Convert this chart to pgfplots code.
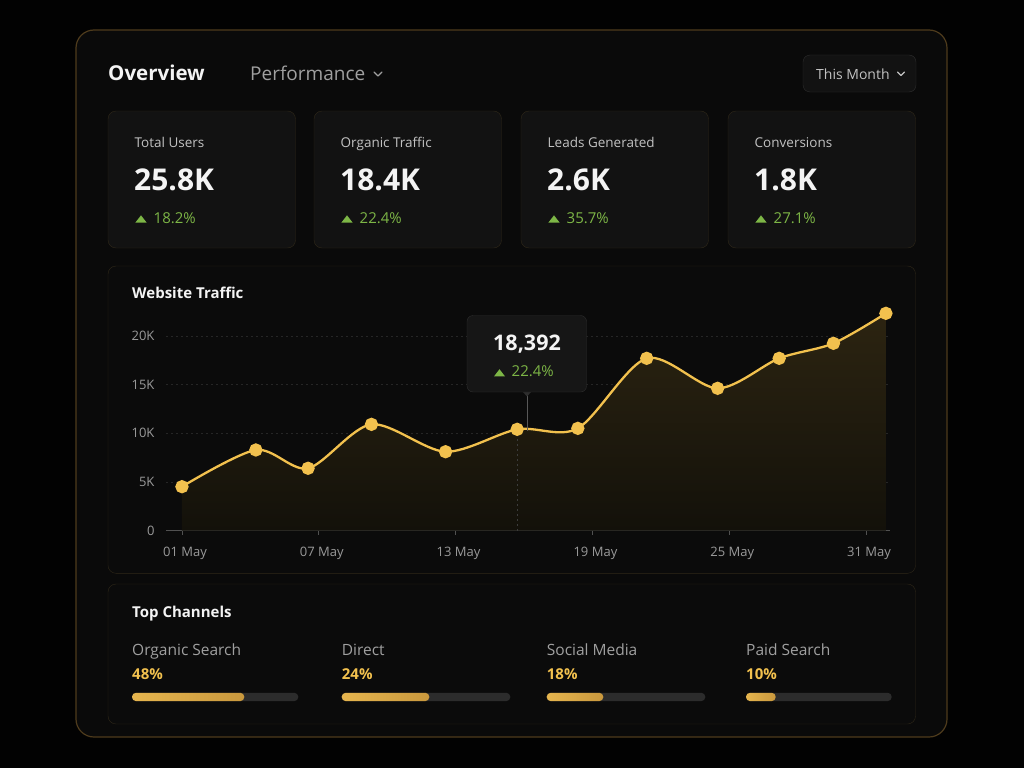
\documentclass[border=0pt]{standalone}
\usepackage{pgfplots}
\pgfplotsset{compat=1.18}
\usepackage{pgfplotstable}
\usepackage{fontspec}
\setmainfont{Open Sans}

\definecolor{pagebg}{HTML}{020202}
\definecolor{panelbg}{HTML}{0A0A0A}
\definecolor{panelborder}{HTML}{4E3B1C}
\definecolor{cardbg}{HTML}{121212}
\definecolor{cardborder}{HTML}{2F2819}
\definecolor{chartbg}{HTML}{0B0B0B}
\definecolor{txtwhite}{HTML}{F4F4F4}
\definecolor{txtgrey}{HTML}{C2C2C2}
\definecolor{txtdim}{HTML}{A0A0A0}
\definecolor{axisgrey}{HTML}{9A9A9A}
\definecolor{upgreen}{HTML}{7DB646}
\definecolor{gold}{HTML}{F2C14E}
\definecolor{goldA}{HTML}{E6B54E}
\definecolor{goldB}{HTML}{C9983D}
\definecolor{track}{HTML}{2C2C2C}
\definecolor{gridc}{HTML}{262626}
\definecolor{areatop}{HTML}{2C2411}
\definecolor{areabot}{HTML}{13110A}
\definecolor{tipbg}{HTML}{161616}
\definecolor{tipborder}{HTML}{2E2E2E}

\newcommand{\fs}[1]{\fontsize{#1}{#1}\selectfont}

% daily website visits (day of May, visits)
\pgfplotstableread{
day    visits
1.00   4520
4.24   8290
6.53   6410
9.31   10920
12.56  8110
15.70  10410
18.36  10510
21.38  17700
24.49  14620
27.19  17700
29.57  19240
31.87  22320
}\traffic

% one channel share bar: left x, track length, scale maximum, share in percent
\newcommand{\channelbar}[4]{%
  \fill[track, rounded corners=4pt] (#1,692.8) rectangle ++(#2,8.3);
  \begin{axis}[at={(#1pt,-701.1pt)}, anchor=south west, width=#2pt, height=8.3pt,
      scale only axis, hide axis, xmin=0, xmax=#3, ymin=-0.5, ymax=0.5, clip=false]
    \addplot[xbar, bar width=8.3pt, draw=none, left color=goldA, right color=goldB,
      rounded corners=4pt] coordinates {(#4,0)};
  \end{axis}}

\begin{document}
\begin{tikzpicture}[x=1pt,y=-1pt]
% page and outer panel
\fill[pagebg] (0,0) rectangle (1024,768);
\draw[panelborder, line width=1.2pt, fill=panelbg, rounded corners=18pt] (76,30) rectangle (947,737);

% header
\node[anchor=base west, inner sep=0, text=txtwhite, font=\fs{20.5}\bfseries] at (108,81) {Overview};
\node[anchor=base west, inner sep=0, text=txtdim, font=\fs{19}] at (250,81) {Performance};
\draw[txtdim, line width=1.3pt, line cap=round, line join=round] (374,72) -- (378,76) -- (382,72);
\draw[fill=cardbg, draw=tipborder, rounded corners=7pt] (803,55) rectangle (916,92);
\node[anchor=base west, inner sep=0, text=txtgrey, font=\fs{14}] at (816,79) {This Month};
\draw[txtgrey, line width=1.2pt, line cap=round, line join=round] (897.5,72) -- (901,75.5) -- (904.5,72);

% KPI cards
\foreach \x/\lab/\val/\chg in {108/Total Users/25.8K/18.2\%, 314/Organic Traffic/18.4K/22.4\%,
    521/Leads Generated/2.6K/35.7\%, 728/Conversions/1.8K/27.1\%}{
  \draw[fill=cardbg, draw=cardborder, rounded corners=8pt] (\x,111) rectangle ++(187.5,137);
  \node[anchor=base west, inner sep=0, text=txtgrey, font=\fs{13.5}] at (\x+26.5,147.3) {\lab};
  \node[anchor=base west, inner sep=0, text=txtwhite, font=\fs{30}\bfseries] at (\x+26,190) {\val};
  \fill[upgreen] (\x+27.3,222.7) -- (\x+38.7,222.7) -- (\x+33,215.3) -- cycle;
  \node[anchor=base west, inner sep=0, text=upgreen, font=\fs{15}] at (\x+45.5,223.3) {\chg};
}

% traffic panel
\draw[fill=chartbg, draw=cardborder, rounded corners=8pt] (108,266) rectangle (915.5,573.3);
\node[anchor=base west, inner sep=0, text=txtwhite, font=\fs{15}\bfseries] at (132,298.3) {Website Traffic};

\begin{axis}[at={(166pt,-530.7pt)}, anchor=south west, width=724pt, height=224pt, scale only axis,
    xmin=0.3, xmax=32.05, ymin=0, ymax=23000, clip=false,
    axis x line*=bottom, axis y line*=left,
    x axis line style={draw=gridc!80!white, line width=0.8pt, -},
    y axis line style={draw=none},
    xtick={1,7,13,19,25,31},
    xticklabels={01 May,07 May,13 May,19 May,25 May,31 May},
    ytick={0,5000,10000,15000,20000},
    yticklabels={0,5K,10K,15K,20K},
    scaled y ticks=false,
    ymajorgrids, grid style={gridc, dash pattern=on 2pt off 3pt, line width=0.6pt},
    tick align=outside, major tick length=4pt,
    xtick style={draw=gridc!80!white, line width=0.6pt},
    ytick style={draw=none},
    ticklabel style={font=\fs{13}, text=axisgrey},
    yticklabel style={anchor=east, xshift=-4pt},
    xticklabel style={anchor=north, yshift=-9pt, xshift=3pt},
  ]
  \addplot[smooth, tension=0.5, draw=none, top color=areatop, bottom color=areabot]
    table[x=day, y=visits] {\traffic} \closedcycle;
  \draw[gridc!90!white, dash pattern=on 2pt off 3pt, line width=0.6pt]
    (axis cs:15.70,0) -- (axis cs:15.70,10410);
  \addplot[smooth, tension=0.5, gold, line width=2.3pt,
    mark=*, mark size=5.5pt, mark options={fill=gold, draw=none}]
    table[x=day, y=visits] {\traffic};
\end{axis}

% hover tooltip
\draw[tipborder!80!white, line width=1pt] (527,392) -- (527,431);
\fill[tipborder] (522.5,391.5) -- (531.5,391.5) -- (527,396.5) -- cycle;
\draw[fill=tipbg, draw=tipborder, rounded corners=6pt] (467,315.5) rectangle (586.5,392);
\node[anchor=base, inner sep=0, text=txtwhite, font=\fs{21.5}\bfseries] at (527,350) {18,392};
\fill[upgreen] (494,376.4) -- (505,376.4) -- (499.5,369.2) -- cycle;
\node[anchor=base west, inner sep=0, text=upgreen, font=\fs{15}] at (511.5,376.7) {22.4\%};

% channels panel
\draw[fill=chartbg, draw=cardborder, rounded corners=8pt] (108,584) rectangle (915.5,724);
\node[anchor=base west, inner sep=0, text=txtwhite, font=\fs{15}\bfseries] at (132,617.3) {Top Channels};
\foreach \x/\lab/\pct in {132/Organic Search/48\%, 341.7/Direct/24\%, 546.7/Social Media/18\%, 746/Paid Search/10\%}{
  \node[anchor=base west, inner sep=0, text=txtdim, font=\fs{15.5}] at (\x,655) {\lab};
  \node[anchor=base west, inner sep=0, text=gold, font=\fs{15}\bfseries] at (\x,679) {\pct};
}
\channelbar{132}{166.3}{71.08}{48}
\channelbar{341.7}{168.6}{46.19}{24}
\channelbar{546.7}{158.6}{50.44}{18}
\channelbar{746}{145.7}{49.06}{10}
\end{tikzpicture}
\end{document}
